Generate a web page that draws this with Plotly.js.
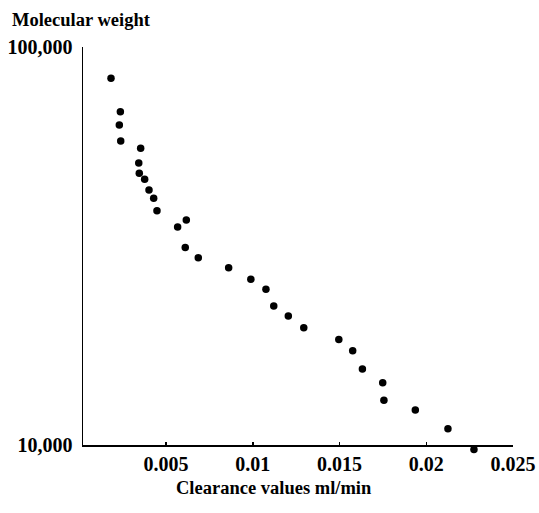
<!DOCTYPE html>
<html>
<head>
<meta charset="utf-8">
<script src="https://cdn.plot.ly/plotly-3.0.1.min.js"></script>
<style>html,body{margin:0;padding:0;background:#fff;}#chart{width:539px;height:513px;}</style>
</head>
<body>
<div id="chart"></div>
<script>
const clearance = [0.00183, 0.00237, 0.00231, 0.00239, 0.00354, 0.00343, 0.00346, 0.00377, 0.00402, 0.00429,
  0.00448, 0.00617, 0.00567, 0.00611, 0.00686, 0.00861, 0.00989, 0.01076, 0.01121, 0.01205,
  0.01294, 0.01496, 0.01576, 0.01632, 0.01749, 0.01756, 0.01937, 0.02125, 0.02275];
const molWeight = [83440, 68780, 63680, 58040, 55650, 51110, 48160, 46510, 43720, 41680,
  38790, 36750, 35290, 31350, 29540, 27900, 26080, 24610, 22350, 21090,
  19710, 18400, 17250, 15520, 14340, 12950, 12240, 10990, 9750];
const xTickVals = [0.005, 0.01, 0.015, 0.02, 0.025];
const xTickText = ['0.005', '0.01', '0.015', '0.02', '0.025'];
const yTickVals = [10000, 100000];
const yTickText = ['10,000', '100,000'];
const yTitle = 'Molecular weight';
const xTitle = 'Clearance values ml/min';

const fontFam = '"Liberation Serif", "Times New Roman", serif';

// plot area: top 47, bottom 455 (408 px); axis line at 445 (10,000)
const extra = 10 / 408;

const axisHolder = {
  x: [null], y: [null], type: 'scatter', mode: 'markers',
  xaxis: 'x', yaxis: 'y', hoverinfo: 'none', showlegend: false
};

const trace = {
  x: clearance, y: molWeight, type: 'scatter', mode: 'markers',
  xaxis: 'x', yaxis: 'y2',
  marker: {color: '#000', size: 7.5},
  cliponaxis: false, hoverinfo: 'none'
};

const layout = {
  width: 539, height: 513,
  margin: {l: 83, r: 26, t: 47, b: 58, pad: 0},
  paper_bgcolor: '#fff', plot_bgcolor: 'rgba(0,0,0,0)',
  showlegend: false,
  font: {family: fontFam, size: 18, color: '#000'},
  xaxis: {
    anchor: 'y',
    range: [0.000216, 0.025], showgrid: false, zeroline: false,
    showline: true, linecolor: '#000', linewidth: 1.5,
    tickmode: 'array', tickvals: xTickVals, ticktext: xTickText,
    ticks: 'inside', ticklen: 3, tickwidth: 1.5, tickcolor: '#000',
    tickfont: {family: fontFam, size: 20, color: '#000', weight: 'bold'}
  },
  yaxis: {
    domain: [extra, 1], anchor: 'x',
    type: 'log', range: [4, 5], showgrid: false, zeroline: false,
    showline: true, linecolor: '#000', linewidth: 1.5,
    tickmode: 'array', tickvals: yTickVals, ticktext: yTickText,
    ticks: '', ticklabelstandoff: 5,
    tickfont: {family: fontFam, size: 20, color: '#000', weight: 'bold'}
  },
  yaxis2: {
    domain: [0, 1], anchor: 'x',
    type: 'log', range: [4 - 10 / 398, 5], visible: false,
    showgrid: false, zeroline: false
  },
  annotations: [
    {text: yTitle, xref: 'paper', yref: 'paper', x: -0.17, y: 1.066,
     xanchor: 'left', yanchor: 'middle', showarrow: false,
     font: {family: fontFam, size: 18.5, color: '#000', weight: 'bold'}},
    {text: xTitle, xref: 'paper', yref: 'paper', x: 0.444, y: -0.081,
     xanchor: 'center', yanchor: 'middle', showarrow: false,
     font: {family: fontFam, size: 18.5, color: '#000', weight: 'bold'}}
  ]
};

Plotly.newPlot('chart', [axisHolder, trace], layout, {staticPlot: true, displayModeBar: false});
</script>
</body>
</html>
